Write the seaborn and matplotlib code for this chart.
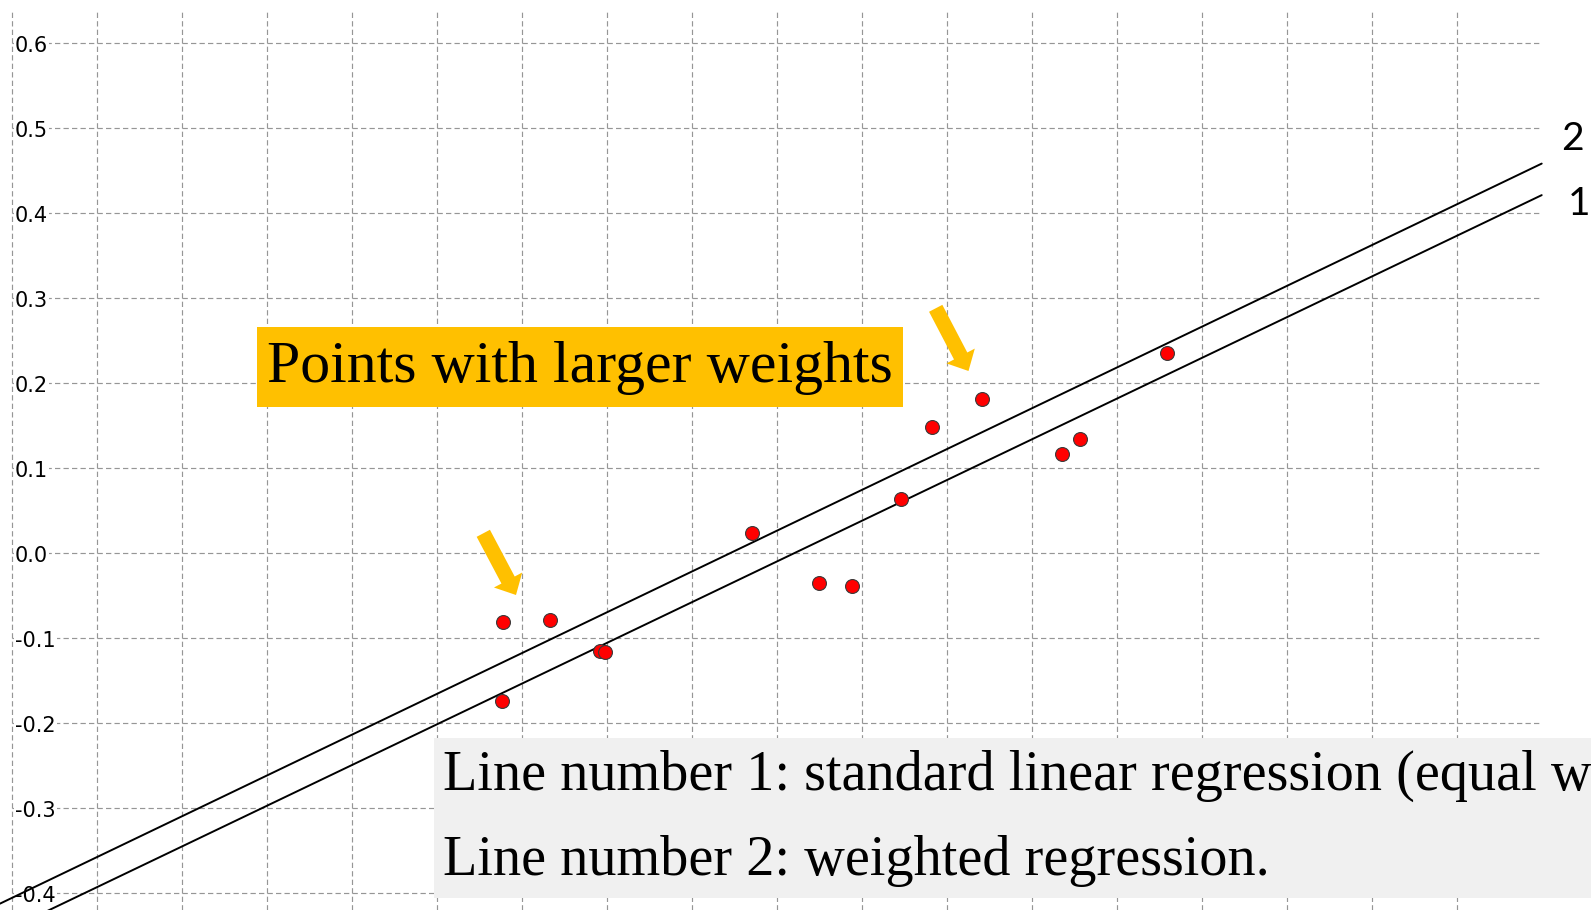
import numpy as np
import pandas as pd
import seaborn as sns
import matplotlib.pyplot as plt
from matplotlib.patches import Rectangle, FancyArrowPatch, ArrowStyle

# ---- data -------------------------------------------------------------
x_obs = [-0.3228, -0.3216, -0.2667, -0.2079, -0.2020, -0.0287, 0.0501,
         0.0882, 0.1462, 0.1831, 0.2419, 0.3353, 0.3568, 0.4588]
y_obs = [-0.1734, -0.0805, -0.0785, -0.1149, -0.1165, 0.0235, -0.0346,
         -0.0381, 0.0639, 0.1489, 0.1812, 0.1168, 0.1341, 0.2353]

line_names = ["1", "2"]                  # 1: ordinary LS, 2: weighted LS
line_slopes = [0.479, 0.480]
line_intercepts = [-0.0097, 0.0265]

x_grid = [-0.9, -0.8, -0.7, -0.6, -0.5, -0.4, -0.3, -0.2, -0.1,
          0.0, 0.1, 0.2, 0.3, 0.4, 0.5, 0.6, 0.7, 0.8]
y_grid = [-0.4, -0.3, -0.2, -0.1, 0.0, 0.1, 0.2, 0.3, 0.4, 0.5, 0.6]
y_labels = ["-0.4", "-0.3", "-0.2", "-0.1", "0.0", "0.1", "0.2",
            "0.3", "0.4", "0.5", "0.6"]

caption_top = "Points with larger weights"
caption_lines = ["Line number 1: standard linear regression (equal weights).",
                 "Line number 2: weighted regression."]

# ---- figure -------------------------------------------------------------
W, H = 1591, 910
sns.set_theme(style="white")
fig = plt.figure(figsize=(W / 100, H / 100), dpi=100)
ax = fig.add_axes([11.7 / W, 0, 1530 / W, (H - 11.7) / H])


def fx(px):
    return px / W


def fy(py):
    return 1 - py / H


ax.set_xlim(-0.9, 0.9)
ax.set_ylim(-0.4196, 0.6372)
ax.set_xticks(x_grid)
ax.set_yticks(y_grid)
ax.grid(True, color="#969696", lw=0.85, ls=(0, (4.5, 2.7)))
for gl in ax.get_xgridlines():
    gl.set_clip_on(False)
ax.tick_params(length=0, labelbottom=False, labelleft=False)
for s in ax.spines.values():
    s.set_visible(False)

# y values written inside the plot area
for v, lab in zip(y_grid, y_labels):
    ax.text(0.0022, v - 0.0099, lab, transform=ax.get_yaxis_transform(),
            ha="left", va="baseline", fontsize=15, family="DejaVu Sans",
            color="black", zorder=1,
            bbox=dict(fc="white", ec="none", pad=0.6))

# regression lines
x_end = [-0.9138, 0.9]
rows = []
for name, b, a in zip(line_names, line_slopes, line_intercepts):
    for xe in x_end:
        rows.append({"x": xe, "y": a + b * xe, "line": name})
lines_df = pd.DataFrame(rows)
sns.lineplot(data=lines_df, x="x", y="y", hue="line",
             palette=["black", "black"], legend=False, lw=1.4,
             estimator=None, ax=ax, zorder=2)
for ln in ax.lines:
    ln.set_clip_on(False)

# observations
sns.scatterplot(x=x_obs, y=y_obs, ax=ax, color="#ff0000",
                edgecolor="#3a3a3a", linewidth=0.8, s=100, zorder=3)

# line numbers at the right end
fig.text(fx(1572), fy(150), "2", family="Lato", fontsize=28,
         ha="center", va="baseline", color="black")
fig.text(fx(1579), fy(215), "1", family="Lato", fontsize=28,
         ha="center", va="baseline", color="black")

# highlighted caption
fig.add_artist(Rectangle((fx(256.7), fy(406.7)), fx(903) - fx(256.7),
                         80 / H, transform=fig.transFigure,
                         fc="#FFC000", ec="none", zorder=4))
fig.text(fx(266.7), fy(381.7), caption_top, family="Liberation Serif",
         fontsize=43, ha="left", va="baseline", color="black", zorder=5)

# arrows pointing at the heavy points
arrow_style = ArrowStyle.Simple(head_length=12.2, head_width=23,
                                tail_width=10.8)
for (x0, y0), (x1, y1) in [((483.3, 533.3), (516, 595)),
                           ((935.7, 308.3), (968.5, 371))]:
    fig.add_artist(FancyArrowPatch((fx(x0), fy(y0)), (fx(x1), fy(y1)),
                                   transform=fig.transFigure,
                                   arrowstyle=arrow_style, mutation_scale=1,
                                   shrinkA=0, shrinkB=0, fc="#FFC000",
                                   ec="none", lw=0, zorder=4))

# explanation box
fig.add_artist(Rectangle((fx(434), fy(898.3)), fx(1600) - fx(434),
                         160 / H, transform=fig.transFigure,
                         fc="#F0F0F0", ec="none", zorder=4))
for txt, base in zip(caption_lines, [790, 875]):
    fig.text(fx(443), fy(base), txt, family="Liberation Serif",
             fontsize=40.5, ha="left", va="baseline", color="black",
             zorder=5)

fig.savefig("out.png", dpi=100)
